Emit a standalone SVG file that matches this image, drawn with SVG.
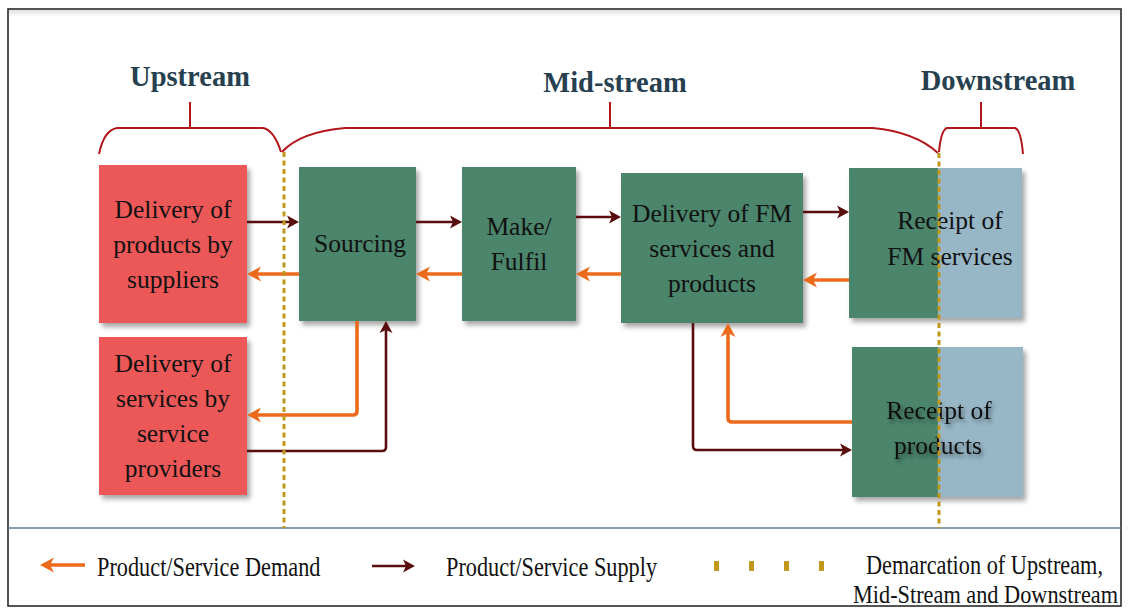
<svg xmlns="http://www.w3.org/2000/svg" width="1128" height="608" viewBox="0 0 1128 608">
  <style>
    .frame { fill: #ffffff; stroke: #2a2a2a; stroke-width: 1.6; }
    .sep { stroke: #5f7f94; stroke-width: 1.6; }
    .head { font-family: "Liberation Serif", "Times New Roman", serif; font-weight: bold; font-size: 28.5px; fill: #26404f; text-anchor: middle; }
    .brace { fill: none; stroke: #b3161b; stroke-width: 2; }
    .up { fill: #ec5859; }
    .mid { fill: #4c856c; }
    .down { fill: #97b6c6; }
    .lbl { font-family: "Liberation Serif", "Times New Roman", serif; font-size: 25.5px; fill: #111111; text-anchor: middle; }
    .leg { font-family: "Liberation Serif", "Times New Roman", serif; font-size: 22.3px; fill: #111111; }
    .supply { fill: none; stroke: #5a0d0d; stroke-width: 2.6; }
    .demand { fill: none; stroke: #ec6a1c; stroke-width: 3.6; }
    .demarc { fill: none; stroke: #c0981e; stroke-width: 3; stroke-dasharray: 5 3.5; }
  </style>
  <defs>
    <filter id="boxShadow" x="-10%" y="-10%" width="125%" height="125%">
      <feDropShadow dx="3" dy="4" stdDeviation="2.5" flood-color="#000000" flood-opacity="0.35"/>
    </filter>
    <filter id="textShadow" x="-10%" y="-20%" width="130%" height="150%">
      <feDropShadow dx="2" dy="3" stdDeviation="2" flood-color="#000000" flood-opacity="0.45"/>
    </filter>
    <linearGradient id="topHaze" x1="0" y1="0" x2="0" y2="1">
      <stop offset="0" stop-color="#000000" stop-opacity="0.12"/>
      <stop offset="1" stop-color="#000000" stop-opacity="0"/>
    </linearGradient>
    <marker id="supplyHead" markerUnits="userSpaceOnUse" markerWidth="13" markerHeight="13" refX="3" refY="6.5" orient="auto" overflow="visible">
      <path d="M0,0 L12,6.5 L0,13 L3,6.5 Z" fill="#5a0d0d"/>
    </marker>
    <marker id="demandHead" markerUnits="userSpaceOnUse" markerWidth="15" markerHeight="15" refX="4" refY="7.5" orient="auto" overflow="visible">
      <path d="M0,0 L14,7.5 L0,15 L4,7.5 Z" fill="#ec6a1c"/>
    </marker>
  </defs>

  <!-- outer frame and legend separator -->
  <rect class="frame" x="8" y="9" width="1113" height="597"/>
  <rect x="9" y="10" width="1111" height="7" fill="url(#topHaze)"/>
  <line class="sep" x1="8" y1="528" x2="1121" y2="528"/>

  <!-- stream headings and braces -->
  <g id="heading-upstream">
    <text class="head" x="190" y="86">Upstream</text>
    <path class="brace" d="M99,154 Q104,130 117,128 L263,128 Q274,130 281,152 M190,102 V128"/>
  </g>
  <g id="heading-midstream">
    <text class="head" x="615" y="92">Mid-stream</text>
    <path class="brace" d="M282,152 Q300,132 345,128 L873,128 Q915,132 938,153 M610,102 V128"/>
  </g>
  <g id="heading-downstream">
    <text class="head" x="998" y="90">Downstream</text>
    <path class="brace" d="M939,152 Q941,130 947,128 L1015,128 Q1021,130 1023,154 M981,102 V128"/>
  </g>

  <!-- nodes -->
  <g id="node-supplier-products">
    <rect class="up" x="99" y="165" width="148" height="158" filter="url(#boxShadow)"/>
    <text class="lbl" x="173" y="218">Delivery of</text>
    <text class="lbl" x="173" y="253">products by</text>
    <text class="lbl" x="173" y="288">suppliers</text>
  </g>
  <g id="node-service-providers">
    <rect class="up" x="99" y="337" width="148" height="158" filter="url(#boxShadow)"/>
    <text class="lbl" x="173" y="372">Delivery of</text>
    <text class="lbl" x="173" y="407">services by</text>
    <text class="lbl" x="173" y="442">service</text>
    <text class="lbl" x="173" y="477">providers</text>
  </g>
  <g id="node-sourcing">
    <rect class="mid" x="299" y="167" width="117" height="154" filter="url(#boxShadow)"/>
    <text class="lbl" x="360" y="252">Sourcing</text>
  </g>
  <g id="node-make-fulfil">
    <rect class="mid" x="462" y="167" width="114" height="154" filter="url(#boxShadow)"/>
    <text class="lbl" x="519" y="235">Make/</text>
    <text class="lbl" x="519" y="270">Fulfil</text>
  </g>
  <g id="node-fm-delivery">
    <rect class="mid" x="621" y="173" width="182" height="150" filter="url(#boxShadow)"/>
    <text class="lbl" x="712" y="222">Delivery of FM</text>
    <text class="lbl" x="712" y="257">services and</text>
    <text class="lbl" x="712" y="292">products</text>
  </g>
  <g id="node-receipt-services">
    <g filter="url(#boxShadow)">
      <rect class="mid" x="849" y="168" width="90" height="150"/>
      <rect class="down" x="938" y="168" width="84" height="150"/>
    </g>
    <text class="lbl" x="950" y="229">Receipt of</text>
    <text class="lbl" x="950" y="265">FM services</text>
  </g>
  <g id="node-receipt-products">
    <g filter="url(#boxShadow)">
      <rect class="mid" x="852" y="347" width="87" height="150"/>
      <rect class="down" x="938" y="347" width="85" height="150"/>
    </g>
    <g filter="url(#textShadow)">
      <text class="lbl" x="939" y="419">Receipt of</text>
      <text class="lbl" x="938" y="454">products</text>
    </g>
  </g>

  <!-- connectors -->
  <g id="connectors">
    <!-- supply flows -->
    <path class="supply" marker-end="url(#supplyHead)" d="M247,222 H290"/>
    <path class="supply" marker-end="url(#supplyHead)" d="M416,222 H453"/>
    <path class="supply" marker-end="url(#supplyHead)" d="M576,217 H612"/>
    <path class="supply" marker-end="url(#supplyHead)" d="M803,212 H840"/>
    <path class="supply" marker-end="url(#supplyHead)" d="M247,451 H382 Q386,451 386,447 V330"/>
    <path class="supply" marker-end="url(#supplyHead)" d="M693,323 V446 Q693,450 697,450 H843"/>
    <!-- demand flows -->
    <path class="demand" marker-end="url(#demandHead)" d="M299,274 H257"/>
    <path class="demand" marker-end="url(#demandHead)" d="M462,274 H426"/>
    <path class="demand" marker-end="url(#demandHead)" d="M621,274 H586"/>
    <path class="demand" marker-end="url(#demandHead)" d="M849,280 H813"/>
    <path class="demand" marker-end="url(#demandHead)" d="M357,321 V411 Q357,415 353,415 H257"/>
    <path class="demand" marker-end="url(#demandHead)" d="M852,422 H732 Q728,422 728,418 V333"/>
  </g>

  <!-- demarcation lines -->
  <g id="demarcations">
    <line class="demarc" x1="284" y1="152" x2="284" y2="528"/>
    <line class="demarc" x1="939" y1="153" x2="939" y2="528"/>
  </g>

  <!-- legend (text stretched vertically to a taller, condensed look) -->
  <g id="legend">
    <path class="demand" marker-end="url(#demandHead)" d="M85,565 H50"/>
    <text class="leg" transform="translate(97,576) scale(1,1.18)">Product/Service Demand</text>
    <path class="supply" marker-end="url(#supplyHead)" d="M372,566 H406"/>
    <text class="leg" transform="translate(446,576) scale(1,1.18)">Product/Service Supply</text>
    <g fill="#c0981e">
      <rect x="714" y="561" width="5" height="10"/>
      <rect x="749" y="561" width="5" height="10"/>
      <rect x="784" y="561" width="5" height="10"/>
      <rect x="819" y="561" width="5" height="10"/>
    </g>
    <text class="leg" transform="translate(866,574) scale(1,1.18)">Demarcation of Upstream,</text>
    <text class="leg" transform="translate(853,603) scale(1,1.1)">Mid-Stream and Downstream</text>
  </g>
</svg>
